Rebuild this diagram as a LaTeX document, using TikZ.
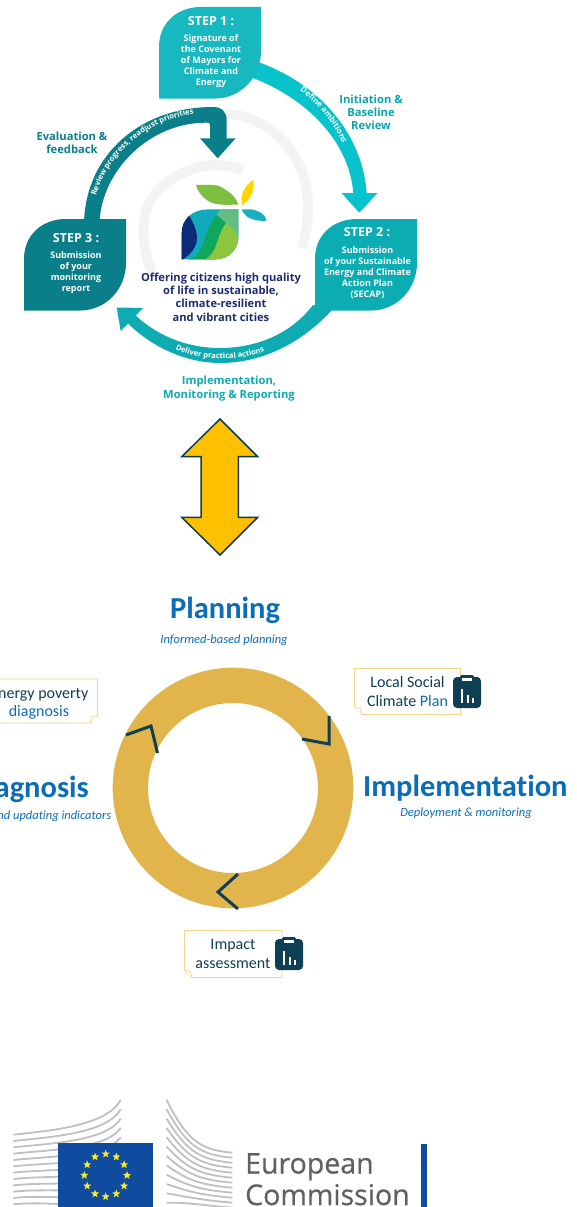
\documentclass[tikz,border=0pt]{standalone}
\usepackage{fontspec}
\usetikzlibrary{decorations.text,shapes.geometric}
\newfontfamily\osf{Open Sans}
\newfontfamily\ecf[FakeBold=0.5]{Open Sans}
\setmainfont[Ligatures=NoCommon]{Carlito}
\definecolor{sOne}{HTML}{17B8BF}
\definecolor{aOne}{HTML}{08C3CB}
\definecolor{sTwo}{HTML}{0CACB3}
\definecolor{aThree}{HTML}{0EABB2}
\definecolor{sThree}{HTML}{0B7F89}
\definecolor{ringgrey}{HTML}{F3F3F3}
\definecolor{navy}{HTML}{1D2C6E}
\definecolor{bluetxt}{HTML}{0B6DB7}
\definecolor{ringgold}{HTML}{E2B44C}
\definecolor{darkteal}{HTML}{0F3F55}
\definecolor{note}{HTML}{F3D48A}
\definecolor{ecgrey}{HTML}{5E6062}
\definecolor{stripe}{HTML}{BEC0C2}
\definecolor{euflag}{HTML}{0F4C9F}
\tikzset{
  stepttl/.style={font=\osf\bfseries\fontsize{12.5}{14}\selectfont,text=white,align=center,inner sep=0pt},
  stepbody/.style={font=\osf\bfseries\fontsize{9}{11}\selectfont,text=white,align=center,inner sep=0pt},
  phase/.style={font=\osf\bfseries\fontsize{11.2}{13.2}\selectfont,align=center,inner sep=0pt},
  bighead/.style={font=\bfseries\fontsize{30.5}{33}\selectfont,text=bluetxt,inner sep=0pt},
  subhead/.style={font=\itshape\fontsize{12.5}{13}\selectfont,text=bluetxt,inner sep=0pt},
  notetxt/.style={font=\fontsize{16}{19}\selectfont,text=darkteal,align=center,inner sep=0pt},
  notebox/.style={draw=note,line width=0.9pt,fill=white},
  chev/.style={draw=darkteal,line width=3pt,miter limit=10},
  stripeln/.style={draw=stripe,line width=1.8pt},
  clipicon/.pic={
    \fill[darkteal,rounded corners=4pt] (0,0) rectangle (28,-31);
    \fill[darkteal,rounded corners=1.5pt] (7,2) rectangle (21,-6);
    \fill[white] (9,-1) rectangle (19,-4);
    \fill[white] (8,-12) rectangle (10,-26);
    \fill[white] (13.5,-18) rectangle (15.5,-26);
    \fill[white] (19,-21) rectangle (21,-26);
  }
}
\newcommand{\leafshape}[3]{\fill[#3,shift={(#1,#2)}] (0,-91.5) -- (0,-40) .. controls (0,-16) and (18,0) .. (42,0) -- (102,0) -- (102,-44) .. controls (102,-70) and (82,-91.5) .. (56,-91.5) -- cycle;}
\begin{document}
\begin{tikzpicture}[x=1pt,y=1pt]
\useasboundingbox (0,0) rectangle (576,-1207);
\clip (0,0) rectangle (576,-1207);
\fill[white] (0,0) rectangle (576,-1207);

% grey background arcs
\draw[ringgrey,line width=10pt] (226,-114) .. controls (275,-116) and (308,-160) .. (308,-205) .. controls (308,-222) and (306,-235) .. (302,-248);
\draw[ringgrey,line width=10pt] (152,-272) .. controls (143,-250) and (140,-225) .. (148,-205) .. controls (160,-180) and (190,-166) .. (215,-165) .. controls (225,-165) and (235,-167) .. (243,-170);

% cycle arrows
\fill[aOne] (258,-62) .. controls (315,-82) and (362,-130) .. (366.7,-193) -- (377.5,-193) -- (359.3,-212.7) -- (341.5,-193) -- (353.3,-193) .. controls (349,-140) and (305,-98) .. (253,-78) -- cycle;
\fill[aThree] (333,-309) .. controls (300,-345) and (260,-363) .. (220,-363) .. controls (190,-363) and (155,-350) .. (128,-323.5) -- (120.7,-331) -- (116.7,-307.5) -- (143,-308) -- (135.7,-315.5) .. controls (160,-338) and (190,-348) .. (220,-348) .. controls (255,-348) and (290,-335) .. (313,-305) -- cycle;
\fill[sThree] (84,-222) .. controls (86,-155) and (140,-107) .. (213,-107) .. controls (222,-107) and (226.7,-112) .. (226.7,-120) -- (226.7,-138.3) -- (235.7,-138.3) -- (217.7,-158.3) -- (200,-138.3) -- (210,-138.3) -- (210,-125) .. controls (210,-123) and (209,-122.7) .. (207,-122.7) .. controls (150,-122) and (102,-170) .. (99.5,-222) -- cycle;

% step shapes
\leafshape{159}{-7}{sOne}
\leafshape{315}{-219}{sTwo}
\leafshape{24}{-219}{sThree}

% step texts
\node[stepttl] (s1t) at (211,-21) {STEP 1 :};
\node[stepbody] (s1b) at (211,-61.5) {Signature of\\the Covenant\\of Mayors for\\Climate and\\Energy};
\node[stepttl] (s2t) at (367,-232.5) {STEP 2 :};
\node[stepbody] (s2b) at (367.5,-272.5) {Submission\\of your Sustainable\\Energy and Climate\\Action Plan\\(SECAP)};
\node[stepttl] (s3t) at (76,-238) {STEP 3 :};
\node[stepbody] (s3b) at (76,-272.5) {Submission\\of your\\monitoring\\report};

% text along arrows
\path[decorate,decoration={text along path,text align=center,text={|\osf\bfseries\fontsize{8}{9}\selectfont\color{white}|Define ambitions}}] (294,-87) .. controls (315,-100) and (335,-122) .. (345,-150);
\path[decorate,decoration={text along path,text align=center,text={|\osf\bfseries\fontsize{7.6}{9}\selectfont\color{white}|Deliver practical actions}}] (168,-345) .. controls (195,-362) and (245,-364) .. (272,-347);
\path[decorate,decoration={text along path,text align=center,text={|\osf\bfseries\fontsize{7.6}{9}\selectfont\color{white}|Review progress, readjust priorities}}] (95,-202) .. controls (102,-160) and (145,-118) .. (200,-113);

% phase labels
\node[phase,text=aOne!85!black] (p1) at (371,-112) {Initiation \&\\Baseline\\Review};
\node[phase,text=sThree] (p3) at (72,-142.5) {Evaluation \&\\feedback};
\node[phase,text=aThree] (p2) at (229,-388.5) {Implementation,\\Monitoring \& Reporting};
\node[font=\osf\bfseries\fontsize{11.1}{13.4}\selectfont,text=navy,align=center,inner sep=0pt] (ctr) at (221,-297) {Offering citizens high quality\\of life in sustainable,\\climate-resilient\\and vibrant cities};

% logo
\begin{scope}[shift={(120,-130)},x=0.33333pt,y=-0.33333pt]
\fill[fill={rgb,255:red,127;green,191;blue,63}] (228,165) .. controls (260,165) and (290,160) .. (310,175) .. controls (335,190) and (350,205) .. (355,224) .. controls (315,224) and (285,228) .. (260,210) .. controls (240,195) and (232,180) .. (228,165) -- cycle;
\fill[fill={rgb,255:red,255;green,212;blue,0}] (400,150) .. controls (404,180) and (395,205) .. (367,225) .. controls (358,195) and (375,165) .. (400,150) -- cycle;
\fill[fill={rgb,255:red,24;green,176;blue,192}] (365,238) -- (395,238) .. controls (425,245) and (435,255) .. (440,272) .. controls (405,275) and (375,265) .. (365,238) -- cycle;
\begin{scope}
\clip (355,238) -- (265,238) .. controls (220,238) and (185,265) .. (185,310) -- (185,388) -- (285,388) .. controls (325,388) and (355,360) .. (355,320) -- cycle;
\fill[fill={rgb,255:red,18;green,169;blue,187}] (170,230) rectangle (360,395);
\fill[fill={rgb,255:red,98;green,188;blue,132}] (308,230) -- (360,230) -- (360,330) .. controls (340,300) and (320,280) .. (290,255) -- cycle;
\fill[fill={rgb,255:red,15;green,167;blue,89}] (205,388) .. controls (260,375) and (245,310) .. (290,255) .. controls (320,280) and (340,300) .. (360,330) -- (360,395) -- (205,395) -- cycle;
\fill[fill={rgb,255:red,140;green,198;blue,63}] (320,278) .. controls (335,292) and (350,310) .. (360,330) -- (360,395) -- (240,395) .. controls (300,375) and (285,315) .. (320,278) -- cycle;
\fill[fill={rgb,255:red,10;green,44;blue,120}] (170,240) -- (205,253) .. controls (225,285) and (240,320) .. (225,350) .. controls (215,370) and (200,382) .. (185,390) -- (170,395) -- cycle;
\end{scope}
\end{scope}

% double arrow
\draw[fill=black!10,draw=none,opacity=.5,shift={(1,-1.5)}] (220,-419) -- (257.7,-456.7) -- (238.3,-456.7) -- (238.3,-517.3) -- (257.7,-517.3) -- (220,-555) -- (181.7,-517.3) -- (201,-517.3) -- (201,-456.7) -- (181.7,-456.7) -- cycle;
\draw[fill={rgb,255:red,255;green,192;blue,0},draw=darkteal,line width=1.5pt,miter limit=10] (220,-419) -- (257.7,-456.7) -- (238.3,-456.7) -- (238.3,-517.3) -- (257.7,-517.3) -- (220,-555) -- (181.7,-517.3) -- (201,-517.3) -- (201,-456.7) -- (181.7,-456.7) -- cycle;

% lower ring
\fill[ringgold,even odd rule] (233,-788) circle (120.3) (233,-788) circle (85);
\draw[chev] (302,-739) -- (329,-744) -- (329,-716);
\draw[chev] (126,-735) -- (151,-726) -- (157.5,-753);
\draw[chev] (238,-874) -- (218,-892) -- (238,-909);

% headings
\node[bighead] (plan) at (225,-610) {Planning};
\node[subhead] (plans) at (224,-640) {Informed-based planning};
\node[bighead,anchor=base west] (impl) at (363,-796) {Implementation};
\node[subhead] (impls) at (466,-813) {Deployment \& monitoring};
\node[bighead,anchor=base east] (diag) at (89,-797) {Diagnosis};
\node[subhead,anchor=base east] (diags) at (111.5,-819) {and updating indicators};

% note boxes
\draw[notebox] (-6,-679) -- (97.5,-679) -- (97.5,-715.5) -- (90,-723) -- (-6,-723) -- cycle;
\draw[note,line width=0.7pt,fill=white] (97.5,-715.5) -- (91.5,-717) -- (90,-723);
\node[notetxt,anchor=base east] (n1a) at (88.5,-698) {Energy poverty};
\node[notetxt,text=bluetxt] (n1b) at (39,-712) {diagnosis};

\draw[notebox] (354.5,-668.5) -- (460.5,-668.5) -- (460.5,-714.5) -- (362,-714.5) -- (354.5,-707) -- cycle;
\draw[note,line width=0.7pt,fill=white] (354.5,-707) -- (360.5,-708.5) -- (362,-714.5);
\node[notetxt] (n2) at (407.5,-691.5) {Local Social\\Climate \textcolor{bluetxt}{Plan}};
\pic at (453,-677) {clipicon};

\draw[notebox] (184.5,-930.5) -- (282,-930.5) -- (282,-977.5) -- (192,-977.5) -- (184.5,-970) -- cycle;
\draw[note,line width=0.7pt,fill=white] (184.5,-970) -- (190.5,-971.5) -- (192,-977.5);
\node[notetxt] (n3) at (233,-953.5) {Impact\\assessment};
\pic at (275,-939) {clipicon};

% EC logo: left building
\begin{scope}[shift={(0,-1090)},x=0.33333pt,y=-0.33333pt]
\foreach \i in {0,...,11}{
  \pgfmathsetmacro{\L}{134+\i*19}
  \pgfmathsetmacro{\R}{30+\i*28}
  \pgfmathsetmacro{\Ca}{\L-12}
  \pgfmathsetmacro{\Cb}{\L-26+\i*4}
  \draw[stripeln] (40,\L) .. controls (150,\Ca) and (320,\Cb) .. (362,\R);
}
\fill[euflag] (175,160) rectangle (458,352);
\foreach \i in {0,...,11}{
  \node[star,star points=5,star point ratio=2.4,fill={rgb,255:red,250;green,235;blue,40},minimum size=8.5pt,inner sep=0pt] (st\i) at ({317+64*cos(\i*30)},{256+64*sin(\i*30)}) {};
}
\end{scope}
% EC logo: right building
\begin{scope}[shift={(150,-1090)},x=0.33333pt,y=-0.33333pt]
\foreach \i in {0,...,11}{
  \pgfmathsetmacro{\S}{30+\i*28}
  \pgfmathsetmacro{\E}{188+\i*15}
  \pgfmathsetmacro{\M}{150+\i*17}
  \pgfmathsetmacro{\N}{\E-8}
  \draw[stripeln] (50,\S) .. controls (110,\M) and (150,\N) .. (247,\E);
}
\end{scope}
\node[font=\ecf\fontsize{28.5}{30}\selectfont,text=ecgrey,anchor=base west,inner sep=0pt] (eu) at (245,-1173.5) {European};
\node[font=\ecf\fontsize{28.5}{30}\selectfont,text=ecgrey,anchor=base west,inner sep=0pt] (com) at (245,-1205) {Commission};
\fill[euflag] (421,-1144) rectangle (427,-1207);
\end{tikzpicture}
\end{document}
